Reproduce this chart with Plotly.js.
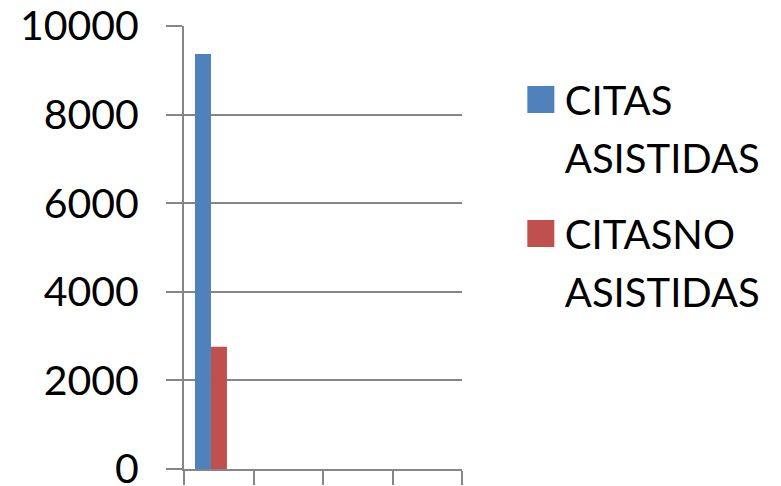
<!DOCTYPE html>
<html>
<head>
<meta charset="utf-8">
<script src="https://cdn.plot.ly/plotly-3.0.1.min.js"></script>
<style>html,body{margin:0;padding:0;background:#fff;}#chart{width:781px;height:486px;}</style>
</head>
<body>
<div id="chart"></div>
<script>
const categories = ["1", "2", "3", "4"];
const seriesNames = ["CITAS<br>ASISTIDAS", "CITASNO<br>ASISTIDAS"];
const citasAsistidas = [9370, null, null, null];
const citasNoAsistidas = [2760, null, null, null];
const yTickVals = [0, 2000, 4000, 6000, 8000, 10000];
const yTickText = ["0", "2000", "4000", "6000", "8000", "10000"];

const gridColor = "#868686";
const traces = [
  {type: "bar", x: categories, y: citasAsistidas, name: seriesNames[0],
   marker: {color: "#4F81BD"}, width: 0.23, offset: -0.342, legendgroup: "a"},
  {type: "bar", x: categories, y: citasNoAsistidas, name: seriesNames[1],
   marker: {color: "#C0504D"}, width: 0.23, offset: -0.112, legendgroup: "b"}
];
const layout = {
  width: 781, height: 486,
  margin: {l: 184, r: 319, t: 26, b: 17, pad: 0},
  paper_bgcolor: "#fff", plot_bgcolor: "#fff",
  font: {family: "Lato, sans-serif", size: 40, color: "#000"},
  showlegend: true,
  legend: {x: 0.672, xref: "container", y: 0.862, yref: "container", xanchor: "left", yanchor: "top",
           font: {family: "Lato, sans-serif", size: 40, color: "#000"},
           valign: "top", traceorder: "grouped", tracegroupgap: 27, bgcolor: "rgba(0,0,0,0)"},
  xaxis: {type: "category", categoryorder: "array", categoryarray: categories,
          range: [-0.5, 3.5], showticklabels: false, tickson: "boundaries",
          ticks: "outside", ticklen: 14, tickwidth: 2, tickcolor: gridColor,
          showline: true, linecolor: gridColor, linewidth: 2, showgrid: false, zeroline: false, fixedrange: true},
  yaxis: {range: [0, 10000], tickvals: yTickVals, ticktext: yTickText,
          ticks: "outside", ticklen: 16, tickwidth: 2, tickcolor: gridColor,
          showline: true, linecolor: gridColor, linewidth: 2,
          showgrid: true, gridcolor: gridColor, gridwidth: 2, zeroline: false,
          ticklabeloverflow: "allow",
          ticklabelstandoff: 19, tickfont: {family: "Lato, sans-serif", size: 41, color: "#000"}, fixedrange: true}
};
Plotly.newPlot("chart", traces, layout, {displayModeBar: false, staticPlot: true}).then(function(gd){
  gd.querySelectorAll(".legendpoints path").forEach(function(p){
    p.setAttribute("d", "M9.5,13.5H-17.5V-13.5H9.5Z");
  });
  gd.querySelectorAll(".legendtext tspan.line").forEach(function(t){
    if (t.getAttribute("dy") && t.getAttribute("dy") !== "0em") t.setAttribute("dy", "1.45em");
  });
});
</script>
</body>
</html>
